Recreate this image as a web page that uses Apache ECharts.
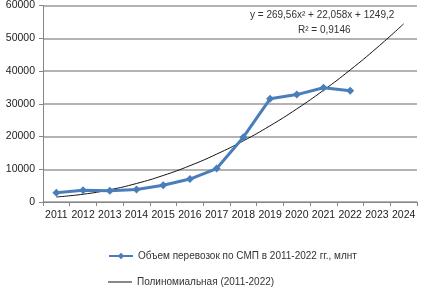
<!DOCTYPE html>
<html><head><meta charset="utf-8">
<script src="https://cdn.jsdelivr.net/npm/echarts@6/dist/echarts.min.js"></script>
<style>html,body{margin:0;padding:0;background:#fff}#c{width:430px;height:294px}</style>
</head><body><div id="c"></div>
<script>
var years = ['2011','2012','2013','2014','2015','2016','2017','2018','2019','2020','2021','2022','2023','2024'];
var volume = [2800, 3600, 3450, 3800, 5100, 7000, 10200, 19800, 31500, 32800, 34900, 34000, null, null];
var trend = [1540, 2370, 3740, 5650, 8100, 11090, 14620, 18680, 23280, 28430, 34110, 40330, 47090, 54390];
var yTicks = [0, 10000, 20000, 30000, 40000, 50000, 60000];
var seriesNames = ['Объем перевозок по СМП в 2011-2022 гг., млнт', 'Полиномиальная (2011-2022)'];
var eqText = 'y = 269,56x² + 22,058x + 1249,2';
var r2Text = 'R² = 0,9146';

var chart = echarts.init(document.getElementById('c'), null, {renderer:'canvas'});
var font = 'Liberation Sans, Arial, sans-serif';
var legendText = {color:'#333', fontSize:10, fontFamily:font};
chart.setOption({
  animation:false,
  grid:{left:43, right:13, top:5, bottom:92, containLabel:false},
  xAxis:{type:'category', data:years, boundaryGap:true,
    axisLine:{lineStyle:{color:'#868686', width:1}},
    axisTick:{show:true, length:4, lineStyle:{color:'#868686'}},
    axisLabel:{color:'#222', fontSize:10.5, fontFamily:font, margin:8, interval:0}},
  yAxis:{type:'value', min:yTicks[0], max:yTicks[yTicks.length-1], interval:10000,
    axisLine:{show:true, lineStyle:{color:'#868686'}},
    axisTick:{show:true, length:4, lineStyle:{color:'#868686'}},
    splitLine:{lineStyle:{color:'#9a9a9a', width:1.5}},
    axisLabel:{color:'#222', fontSize:10.5, fontFamily:font, margin:8, formatter:function(v){return String(v);}}},
  legend:[
    {left:108, top:251, padding:0, itemWidth:24, itemHeight:8, textStyle:legendText,
     data:[seriesNames[0]]},
    {left:108, top:277, padding:0, itemWidth:24, itemHeight:1, textStyle:legendText,
     data:[{name:seriesNames[1], icon:'rect'}]}
  ],
  graphic:[
    {type:'text', left:250, top:10, style:{text:eqText, fill:'#333', font:'10px '+font}},
    {type:'text', left:298, top:25, style:{text:r2Text, fill:'#333', font:'10px '+font}}
  ],
  series:[
    {name:seriesNames[0], type:'line', data:volume, symbol:'diamond', symbolSize:8,
      lineStyle:{color:'#4a7ebb', width:3}, itemStyle:{color:'#4a7ebb'}, z:3},
    {name:seriesNames[1], type:'line', data:trend, smooth:true, showSymbol:false, symbol:'none',
      lineStyle:{color:'#111', width:1}, itemStyle:{color:'#111'}, z:2}
  ]
});
</script></body></html>
